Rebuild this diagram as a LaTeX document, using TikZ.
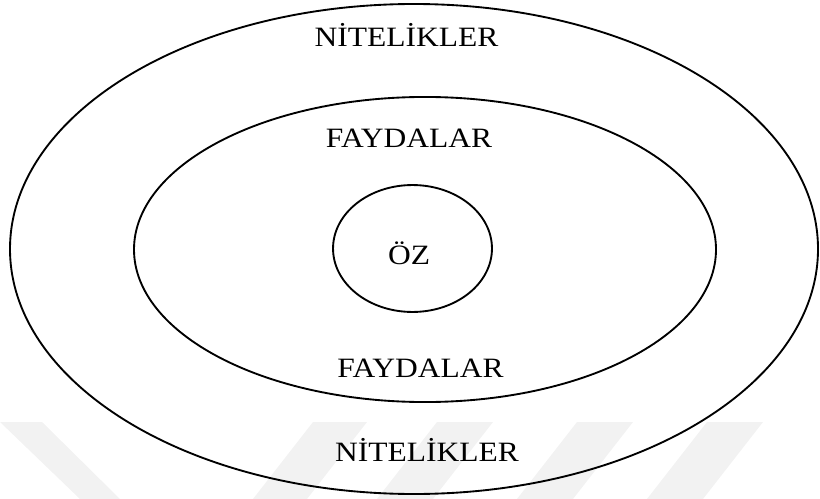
\documentclass[tikz,border=0pt]{standalone}
\usepackage{fontspec}
\setmainfont{Liberation Serif}
\begin{document}
\begin{tikzpicture}[x=0.75pt,y=-0.75pt,
  ring/.style={draw=black,line width=1.4pt},
  lbl/.style={anchor=base,inner sep=0pt,font=\fontsize{21}{25}\selectfont},
  wm/.style={fill=black!5,draw=none}]
\useasboundingbox (0,0) rectangle (820,499);
% faint watermark
\fill[wm] (0,422) -- (42,422) -- (120,499) -- (80,499) -- cycle;
\fill[wm] (313,422) -- (367,422) -- (307,499) -- (253,499) -- cycle;
\fill[wm] (437,422) -- (493,422) -- (433,499) -- (377,499) -- cycle;
\fill[wm] (577,422) -- (633,422) -- (573,499) -- (517,499) -- cycle;
\fill[wm] (707,422) -- (763,422) -- (703,499) -- (647,499) -- cycle;
% rings
\draw[ring] (414,249) ellipse [x radius=303pt, y radius=183.75pt];
\draw[ring] (425,249.5) ellipse [x radius=218.25pt, y radius=114.4pt];
\draw[ring] (412.5,248.5) ellipse [x radius=59.6pt, y radius=47.6pt];
% labels
\node[lbl] (nt) at (406.5,47) {\scalebox{1.125}[1]{NİTELİKLER}};
\node[lbl] (ft) at (409,147) {\scalebox{1.125}[1]{FAYDALAR}};
\node[lbl] (oz) at (409,264) {\scalebox{1.125}[1]{ÖZ}};
\node[lbl] (fb) at (420.5,377) {\scalebox{1.125}[1]{FAYDALAR}};
\node[lbl] (nb) at (427,461) {\scalebox{1.125}[1]{NİTELİKLER}};
\end{tikzpicture}
\end{document}
